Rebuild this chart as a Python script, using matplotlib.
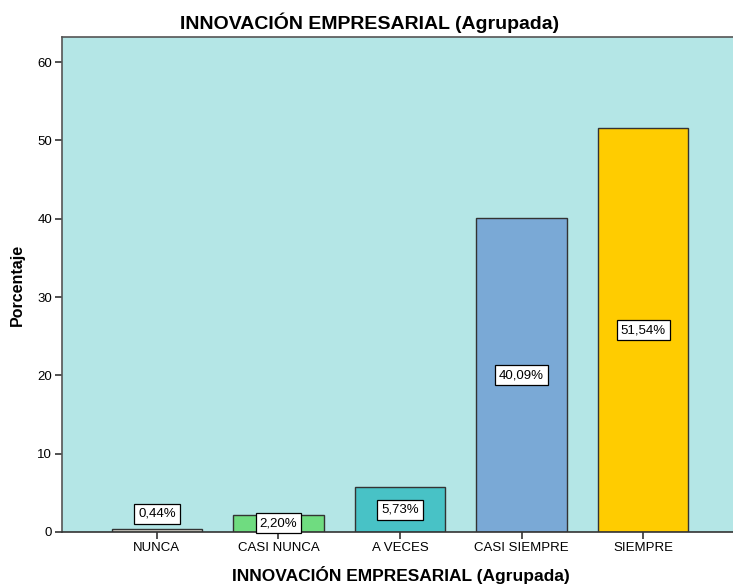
import numpy as np
import matplotlib
matplotlib.use("Agg")
import matplotlib.pyplot as plt

plt.rcParams['font.family'] = ['Liberation Sans', 'DejaVu Sans']

categorias = ["NUNCA", "CASI NUNCA", "A VECES", "CASI SIEMPRE", "SIEMPRE"]
porcentajes = [0.44, 2.20, 5.73, 40.09, 51.54]
etiquetas = ["0,44%", "2,20%", "5,73%", "40,09%", "51,54%"]
colores = ["#d3d0c8", "#6fdc80", "#48c2c6", "#7aa9d6", "#ffcc00"]
yticks = [0, 10, 20, 30, 40, 50, 60]

fig = plt.figure(figsize=(7.33, 5.85), dpi=100)
ax = fig.add_axes([62/733, 53/585, 1 - 62/733 + 0.01, 495/585])
ax.set_facecolor("#b4e6e6")

x = np.arange(len(categorias))
ax.bar(x, porcentajes, width=0.745, color=colores, edgecolor="#333333", linewidth=1.0, zorder=2)

# etiquetas en el centro de la barra; las barras muy bajas la llevan encima
for xi, v, t in zip(x, porcentajes, etiquetas):
    yl = v / 2 if v > 1 else 2.3
    ax.text(xi, yl, t, ha="center", va="center", fontsize=9.5, zorder=3,
            bbox=dict(boxstyle="square,pad=0.3", fc="white", ec="black", lw=0.9))

ax.set_xlim(-0.78, 4.8)
ax.set_ylim(0, 63.2)
ax.set_xticks(x)
ax.set_xticklabels(categorias, fontsize=9.5)
ax.set_yticks(yticks)
ax.set_yticklabels([str(v) for v in yticks], fontsize=9.5)
ax.tick_params(axis="both", direction="out", length=5, width=1.2, color="#333333", pad=2)

for s in ["left", "top"]:
    ax.spines[s].set_color("#555555")
    ax.spines[s].set_linewidth(1.2)
ax.spines["bottom"].set_color("#333333")
ax.spines["bottom"].set_linewidth(1.2)
ax.spines["right"].set_visible(False)

ax.set_ylabel("Porcentaje", fontsize=11.5, fontweight="bold", labelpad=9)
ax.set_xlabel("INNOVACIÓN EMPRESARIAL (Agrupada)", fontsize=12.5, fontweight="bold", labelpad=9)
fig.text(370/733, 1 - 23/585, "INNOVACIÓN EMPRESARIAL (Agrupada)", ha="center", va="center",
         fontsize=14, fontweight="bold")

fig.savefig("out.png", dpi=100)
